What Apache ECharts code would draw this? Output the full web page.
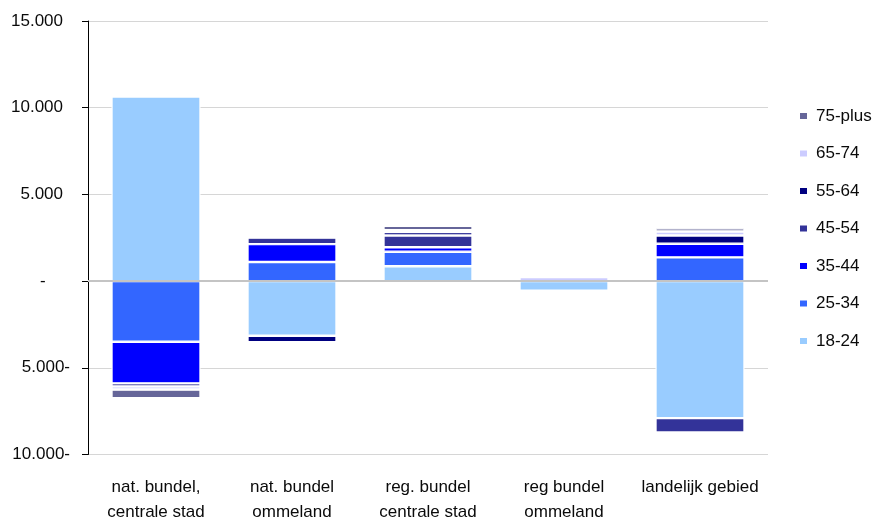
<!DOCTYPE html>
<html>
<head>
<meta charset="utf-8">
<script src="https://cdn.jsdelivr.net/npm/echarts@6/dist/echarts.min.js"></script>
<style>
  html, body { margin: 0; padding: 0; background: #ffffff; }
  #chart { width: 877px; height: 525px; }
</style>
</head>
<body>
<div id="chart"></div>
<script>
// Regions along the x axis
const categories = [
  'nat. bundel,\ncentrale stad',
  'nat. bundel\nommeland',
  'reg. bundel\ncentrale stad',
  'reg bundel\nommeland',
  'landelijk gebied'
];

// Change in number of persons per age group, per region
const age18_24 = [10650, -3150, 860, -560, -7900];
const age25_34 = [-3500, 1100, 830, 0, 1370];
const age35_44 = [-2400, 1030, 260, 0, 780];
const age45_54 = [60, 380, 680, 0, -830];
const age55_64 = [-170, -375, 200, 0, 480];
const age65_74 = [-185, 0, 100, 230, 230];
const age75plus = [-500, 0, 260, 0, 190];

const ageGroups = ['18-24', '25-34', '35-44', '45-54', '55-64', '65-74', '75-plus'];
const groupValues = [age18_24, age25_34, age35_44, age45_54, age55_64, age65_74, age75plus];
const groupColors = ['#99ccff', '#3366ff', '#0000ff', '#333399', '#000080', '#ccccff', '#666699'];

// Y axis range and step
const yMin = -10000;
const yMax = 15000;
const yStep = 5000;

const FONT = '"Liberation Sans", Arial, sans-serif';
const FONT_SIZE = 17;
const TEXT_COLOR = '#0a0a0a';

function dutchNumber(v) {
  return Math.abs(v).toString().replace(/\B(?=(\d{3})+(?!\d))/g, '.');
}

const series = ageGroups.map((name, i) => {
  const s = {
    name: name,
    type: 'bar',
    stack: 'total',
    barCategoryGap: '34.5%',
    data: groupValues[i],
    itemStyle: { color: groupColors[i], borderColor: '#ffffff', borderWidth: 1.2 },
    emphasis: { disabled: true }
  };
  if (i === 0) {
    // zero line drawn above the stacked bars
    s.markLine = {
      silent: true,
      symbol: 'none',
      label: { show: false },
      lineStyle: { color: '#c4c4c4', width: 2, type: 'solid' },
      data: [{ yAxis: 0 }]
    };
  }
  return s;
});

const chart = echarts.init(document.getElementById('chart'), null, { renderer: 'canvas' });
chart.setOption({
  animation: false,
  backgroundColor: '#ffffff',
  textStyle: { fontFamily: FONT },
  grid: { left: 88, right: 109, top: 21, bottom: 70, containLabel: false },
  legend: {
    orient: 'vertical',
    left: 798,
    top: 107.5,
    padding: 0,
    itemWidth: 9,
    itemHeight: 8,
    itemGap: 20.5,
    icon: 'rect',
    data: ageGroups.slice().reverse(),
    textStyle: { fontFamily: FONT, fontSize: FONT_SIZE, lineHeight: 17, color: TEXT_COLOR, padding: [0, 0, 0, 3] }
  },
  xAxis: {
    type: 'category',
    data: categories,
    axisLine: { show: false, onZero: false },
    axisTick: { show: false },
    splitLine: { show: false },
    axisLabel: {
      margin: 20.5,
      fontFamily: FONT,
      fontSize: FONT_SIZE,
      lineHeight: 25,
      color: TEXT_COLOR,
      interval: 0
    }
  },
  yAxis: {
    type: 'value',
    min: yMin,
    max: yMax,
    interval: yStep,
    axisLine: { show: true, lineStyle: { color: '#000000', width: 1 } },
    axisTick: { show: true, length: 6, lineStyle: { color: '#000000' } },
    splitLine: { show: true, lineStyle: { color: '#d6d6d6', width: 1 } },
    axisLabel: {
      margin: 18,
      fontFamily: FONT,
      fontSize: FONT_SIZE,
      color: TEXT_COLOR,
      formatter: function (v) {
        if (v === 0) return '{z|-}';
        if (v > 0) return dutchNumber(v) + '{sp| }';
        return dutchNumber(v) + '-';
      },
      rich: {
        z: { width: 30, align: 'left', fontFamily: FONT, fontSize: FONT_SIZE, color: TEXT_COLOR },
        sp: { width: 7, fontFamily: FONT, fontSize: FONT_SIZE }
      }
    }
  },
  series: series
});
</script>
</body>
</html>
